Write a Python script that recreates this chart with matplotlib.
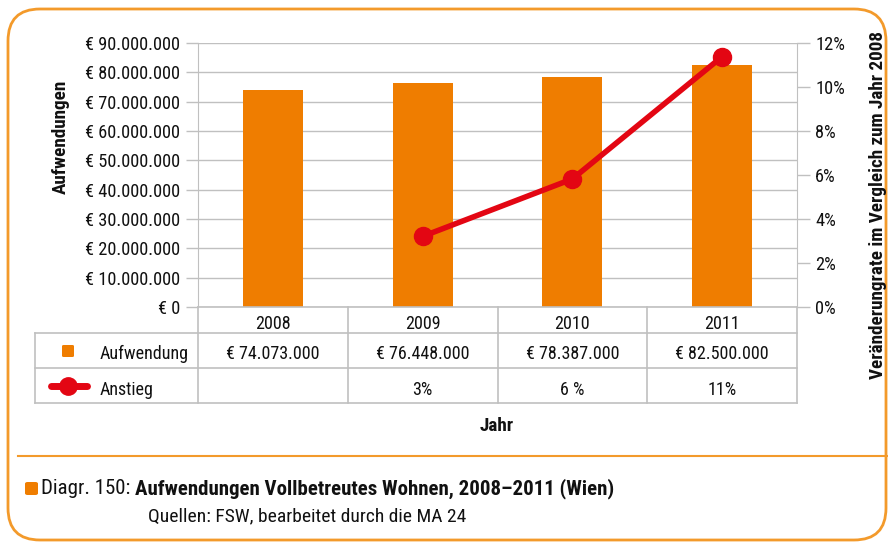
import matplotlib
matplotlib.use("Agg")
import matplotlib.pyplot as plt
from matplotlib.lines import Line2D
from matplotlib.patches import FancyBboxPatch
from matplotlib.ticker import FuncFormatter, MultipleLocator
from matplotlib import font_manager as fm

names = {f.name for f in fm.fontManager.ttflist}
FONT, STRETCH = "DejaVu Sans", "normal"
for fam in ["Liberation Sans Narrow", "Roboto Condensed", "Arial Narrow", "Nimbus Sans Narrow"]:
    if fam in names:
        FONT = fam
        break
else:
    if any(f.name == "DejaVu Sans" and f.stretch == "condensed" for f in fm.fontManager.ttflist):
        STRETCH = "condensed"
plt.rcParams['font.family'] = [FONT, 'DejaVu Sans']
plt.rcParams['font.stretch'] = STRETCH

years = ["2008", "2009", "2010", "2011"]
aufwendung = [74073000, 76448000, 78387000, 82500000]
anstieg = [None, 3.21, 5.82, 11.38]
aufw_labels = ["€ 74.073.000", "€ 76.448.000", "€ 78.387.000", "€ 82.500.000"]
anstieg_labels = ["", "3%", "6 %", "11%"]

ORANGE = "#EF7D00"
BORDER = "#F39A2B"
RED = "#E30613"
GRID = "#C0C0C0"
TXT = "#111111"
FS_TICK = 13.2
FS_TAB = 13
FS_LAB = 13.8
FS_CAP = 14.5
W, H = 888, 542

fig = plt.figure(figsize=(W/100, H/100), dpi=100)
def fx(px): return px / W
def fy(py): return 1 - py / H

L, R, T, B = 198, 797, 43, 307
ax = fig.add_axes([fx(L), fy(B), fx(R - L), fy(T) - fy(B)])
x = list(range(len(years)))
ax.bar(x, aufwendung, width=0.4, color=ORANGE, zorder=2)
ax.set_xlim(-0.5, 3.5)
ax.set_ylim(0, 90000000)
ax.yaxis.set_major_locator(MultipleLocator(10000000))
def euro(v, p):
    s = f"{int(round(v)):,}".replace(",", ".")
    return f"€ {s}"
ax.yaxis.set_major_formatter(FuncFormatter(euro))
ax.grid(axis='y', color=GRID, lw=1, zorder=0)
ax.set_xticks([])
for s in ['top', 'bottom', 'right']:
    ax.spines[s].set_visible(False)
ax.spines['left'].set_color(GRID)
ax.tick_params(axis='y', colors=GRID, labelcolor=TXT, labelsize=FS_TICK, length=9, width=1, pad=4)

ax2 = ax.twinx()
ax2.set_ylim(0, 12)
ax2.yaxis.set_major_locator(MultipleLocator(2))
ax2.yaxis.set_major_formatter(FuncFormatter(lambda v, p: f"{int(v)}%"))
for s in ['top', 'bottom', 'left']:
    ax2.spines[s].set_visible(False)
ax2.spines['right'].set_color(GRID)
ax2.tick_params(axis='y', colors=GRID, labelcolor=TXT, labelsize=FS_TICK, length=9, width=1, pad=4)
lx = [i for i, v in enumerate(anstieg) if v is not None]
ly = [v for v in anstieg if v is not None]
ax2.plot(lx, ly, color=RED, lw=4, marker='o', markersize=13, zorder=3, solid_capstyle='round')

# table
fig.canvas.draw()
def data_px(xd):
    return ax.transData.transform((xd, 0))[0]
cols = [data_px(-0.5 + i) for i in range(5)]
TL = 35
lw = 1.2
def hline(x0, x1, y):
    fig.add_artist(Line2D([x0 / W, x1 / W], [fy(y), fy(y)], color=GRID, lw=lw))
def vline(xp, y0, y1):
    fig.add_artist(Line2D([xp / W, xp / W], [fy(y0), fy(y1)], color=GRID, lw=lw))
hline(cols[0], cols[-1], 307)
hline(TL, cols[-1], 333)
hline(TL, cols[-1], 368)
hline(TL, cols[-1], 403)
for c in cols:
    vline(c, 307, 403)
vline(TL, 333, 403)
for i, yr in enumerate(years):
    cx = (cols[i] + cols[i + 1]) / 2
    fig.text(cx / W, fy(329), yr, ha='center', va='baseline', fontsize=FS_TAB, color=TXT)
    fig.text(cx / W, fy(359), aufw_labels[i], ha='center', va='baseline', fontsize=FS_TAB, color=TXT)
    fig.text(cx / W, fy(395), anstieg_labels[i], ha='center', va='baseline', fontsize=FS_TAB, color=TXT)
fig.add_artist(FancyBboxPatch((fx(62), fy(357)), fx(12), fy(345) - fy(357),
                              boxstyle="round,pad=0,rounding_size=0.002", fc=ORANGE, ec='none'))
fig.text(fx(100), fy(359), "Aufwendung", ha='left', va='baseline', fontsize=FS_TAB, color=TXT)
fig.add_artist(Line2D([fx(51), fx(87)], [fy(386), fy(386)], color=RED, lw=5, solid_capstyle='round'))
fig.add_artist(Line2D([fx(68)], [fy(386)], color=RED, marker='o', markersize=12.5))
fig.text(fx(100), fy(395), "Anstieg", ha='left', va='baseline', fontsize=FS_TAB, color=TXT)

# axis titles
fig.text(fx(60.5), fy(137), "Aufwendungen", rotation=90, ha='center', va='center', fontsize=FS_LAB,
         fontweight='bold', color=TXT)
fig.text(fx(878), fy(205), "Veränderungrate im Vergleich zum Jahr 2008", rotation=90, ha='center',
         va='center', fontsize=FS_LAB, fontweight='bold', color=TXT)
fig.text(fx(497), fy(431), "Jahr", ha='center', va='baseline', fontsize=FS_LAB, fontweight='bold', color=TXT)

# frame
fig.add_artist(FancyBboxPatch((fx(8), fy(540)), fx(886 - 8), fy(9) - fy(540),
                              boxstyle="round,pad=0,rounding_size=0.036", fc='none', ec=BORDER, lw=2,
                              mutation_aspect=W / H))
fig.add_artist(Line2D([fx(18), fx(888)], [fy(456), fy(456)], color=BORDER, lw=1.5))

# caption
fig.add_artist(FancyBboxPatch((fx(25), fy(495)), fx(13), fy(482) - fy(495),
                              boxstyle="round,pad=0,rounding_size=0.003", fc=ORANGE, ec='none'))
fig.text(fx(41), fy(494), "Diagr. 150:", ha='left', va='baseline', fontsize=15, color=TXT)
fig.text(fx(135), fy(494), "Aufwendungen Vollbetreutes Wohnen, 2008–2011 (Wien)", ha='left',
         va='baseline', fontsize=15, fontweight='bold', color=TXT)
fig.text(fx(148), fy(521), "Quellen: FSW, bearbeitet durch die MA 24", ha='left', va='baseline',
         fontsize=14, color=TXT)

fig.savefig("out.png", dpi=100)
